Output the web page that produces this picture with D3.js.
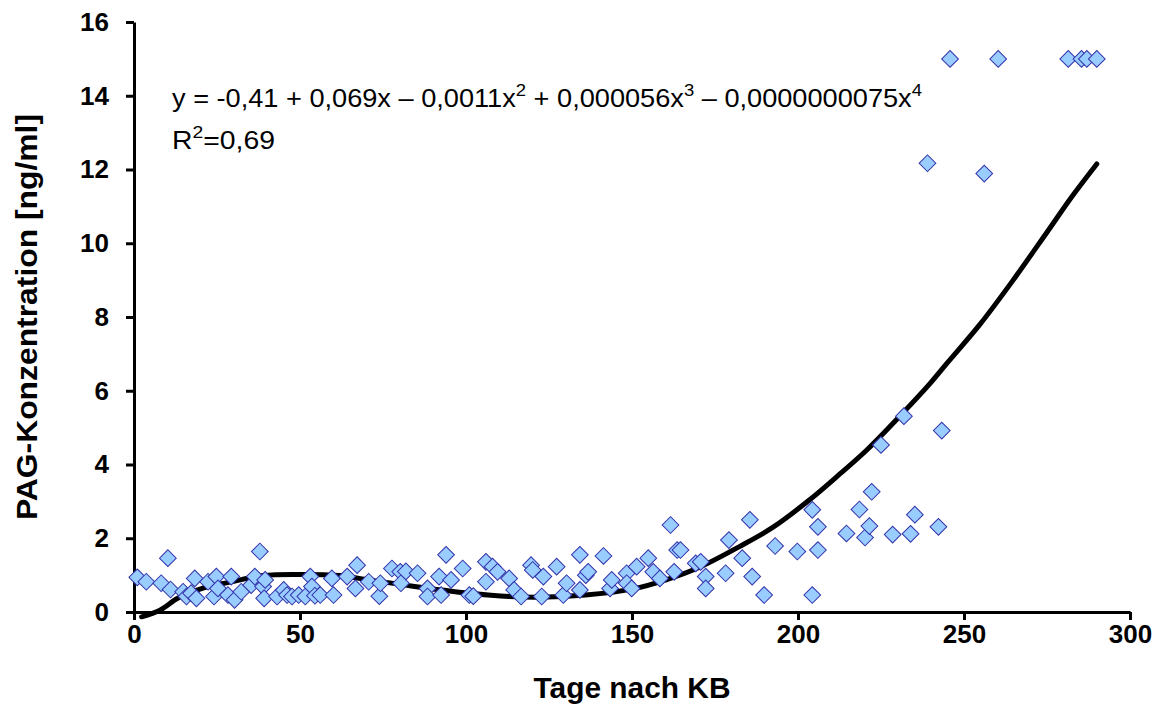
<!DOCTYPE html>
<html>
<head>
<meta charset="utf-8">
<script src="https://cdn.jsdelivr.net/npm/d3@7"></script>
<style>
  body { margin: 0; background: #fff; }
  text { font-family: "Liberation Sans", Arial, sans-serif; }
  .axis text { font-weight: bold; font-size: 26px; fill: #000; }
  .axis path, .axis line { stroke: #000; stroke-width: 3; }
  .axis-label { font-weight: bold; font-size: 29px; }
</style>
</head>
<body>
<div id="chart"></div>
<script>
// Tage nach KB / PAG-Konzentration
const days = [1, 3.7, 8.2, 10.2, 11, 14.8, 15.8, 17.2, 18.3, 18.8, 22.3, 24.1, 24.8, 25.3, 28.3, 29.3, 30.3, 32.3, 35.3, 36.4,
  37.9, 38.9, 39.2, 39.5, 43.1, 45.1, 46.1, 47.6, 49.6, 51.6, 53.1, 53.6, 54.5, 56.1, 59.6, 60.1, 64.2, 66.7, 67.2, 70.7,
  73.9, 74.2, 77.7, 80.2, 80.4, 81.9, 85.4, 88.4, 88.4, 91.9, 92.5, 94, 95.5, 99, 101, 102.2, 106, 106, 108, 109.5,
  113, 114.5, 116.6, 119.6, 120.1, 122.8, 123.3, 127.3, 129.3, 130.3, 134.3, 134.3, 136.1, 136.8, 141.4, 143.4, 143.9, 148.4, 148.4, 149.9,
  151.4, 154.9, 156.4, 158.4, 161.6, 162.7, 163.6, 164.6, 169.2, 170.7, 172.2, 172.2, 178.2, 179.2, 183.2, 185.5, 186.2, 189.8, 193.1, 199.8,
  204.3, 204.3, 206, 206, 214.6, 218.5, 220.2, 221.5, 222.2, 225, 228.5, 231.9, 233.9, 235.2, 239, 242.3, 243.3, 245.8, 256.1, 260.3,
  281.4, 285.4, 287, 290];
const pag = [0.94, 0.82, 0.78, 1.46, 0.61, 0.55, 0.42, 0.51, 0.91, 0.37, 0.82, 0.42, 0.96, 0.64, 0.46, 0.96, 0.33, 0.55, 0.73, 0.96,
  1.64, 0.69, 0.37, 0.87, 0.42, 0.6, 0.46, 0.42, 0.46, 0.42, 0.96, 0.69, 0.44, 0.46, 0.91, 0.46, 0.96, 0.64, 1.27, 0.82,
  0.43, 0.78, 1.18, 1.09, 0.78, 1.1, 1.05, 0.64, 0.42, 0.96, 0.46, 1.55, 0.87, 1.18, 0.46, 0.43, 1.36, 0.82, 1.23, 1.09,
  0.91, 0.6, 0.42, 1.27, 1.14, 0.42, 0.96, 1.23, 0.46, 0.78, 1.55, 0.6, 1.0, 1.09, 1.52, 0.64, 0.87, 1.05, 0.78, 0.64,
  1.23, 1.46, 1.09, 0.91, 2.36, 1.09, 1.68, 1.68, 1.32, 1.36, 0.96, 0.64, 1.05, 1.95, 1.46, 2.5, 0.96, 0.46, 1.79, 1.64,
  2.77, 0.46, 2.31, 1.68, 2.13, 2.78, 2.02, 2.33, 3.26, 4.53, 2.1, 5.31, 2.12, 2.64, 12.17, 2.31, 4.92, 15, 11.89, 15,
  15, 15, 15, 15];

// Trendlinie
const trendDays = [2.3, 7.8, 13.3, 20.8, 28.9, 38.9, 50, 62, 70, 84, 101, 113, 122, 136, 150, 160.5, 170.5, 182.5, 192.5, 203.6,
  212.7, 220.8, 231.6, 239.8, 244.9, 254.8, 264.8, 275, 282.8, 290];
const trendPag = [-0.13, 0.05, 0.38, 0.65, 0.81, 0.99, 1.02, 0.99, 0.88, 0.7, 0.51, 0.42, 0.4, 0.46, 0.62, 0.88, 1.22, 1.78, 2.3, 3.05,
  3.75, 4.4, 5.4, 6.2, 6.75, 7.8, 9.0, 10.3, 11.3, 12.15];

const xTicks = [0, 50, 100, 150, 200, 250, 300];
const yTicks = [0, 2, 4, 6, 8, 10, 12, 14, 16];

const margin = { top: 22, right: 35, bottom: 110, left: 134 };
const width = 1165 - margin.left - margin.right;
const height = 722 - margin.top - margin.bottom;

const svg = d3.select("#chart")
  .append("svg")
  .attr("width", 1165)
  .attr("height", 722)
  .append("g")
  .attr("transform", `translate(${margin.left},${margin.top})`);

const x = d3.scaleLinear().domain([0, 300]).range([0, width]);
const y = d3.scaleLinear().domain([0, 16]).range([height, 0]);

svg.append("g")
  .attr("class", "axis")
  .call(d3.axisLeft(y).tickValues(yTicks).tickSize(8).tickSizeOuter(0).tickPadding(17).tickFormat(d3.format("d")));

svg.append("g")
  .attr("class", "axis")
  .attr("transform", `translate(0,${height})`)
  .call(d3.axisBottom(x).tickValues(xTicks).tickSize(8).tickSizeOuter(0).tickPadding(5).tickFormat(d3.format("d")));

// trend line
const line = d3.line()
  .x((d, i) => x(trendDays[i]))
  .y((d, i) => y(trendPag[i]))
  .curve(d3.curveCatmullRom);

svg.append("path")
  .datum(trendDays)
  .attr("d", line)
  .attr("fill", "none")
  .attr("stroke", "#000")
  .attr("stroke-width", 5)
  .attr("stroke-linecap", "round");

// points
const diamond = d3.symbol().type(d3.symbolSquare).size(140);
svg.selectAll(".pt")
  .data(days)
  .enter()
  .append("path")
  .attr("class", "pt")
  .attr("d", diamond)
  .attr("transform", (d, i) => `translate(${x(d)},${y(pag[i])}) rotate(45)`)
  .attr("fill", "#99CCFF")
  .attr("stroke", "#3333AA")
  .attr("stroke-width", 1);

// equation
const eq = svg.append("text")
  .attr("x", 38)
  .attr("y", 85)
  .attr("textLength", 750)
  .attr("lengthAdjust", "spacingAndGlyphs")
  .style("font-size", "25px");
eq.append("tspan").text("y = -0,41 + 0,069x \u2013 0,0011x");
eq.append("tspan").attr("dy", -11).style("font-size", "17px").text("2");
eq.append("tspan").attr("dy", 11).text(" + 0,000056x");
eq.append("tspan").attr("dy", -11).style("font-size", "17px").text("3");
eq.append("tspan").attr("dy", 11).text(" \u2013 0,0000000075x");
eq.append("tspan").attr("dy", -11).style("font-size", "17px").text("4");

const r2 = svg.append("text")
  .attr("x", 38)
  .attr("y", 127)
  .attr("textLength", 103)
  .attr("lengthAdjust", "spacingAndGlyphs")
  .style("font-size", "25px");
r2.append("tspan").text("R");
r2.append("tspan").attr("dy", -11).style("font-size", "17px").text("2");
r2.append("tspan").attr("dy", 11).text("=0,69");

// Axis labels
svg.append("text")
  .attr("class", "axis-label")
  .attr("text-anchor", "middle")
  .attr("x", 632 - margin.left)
  .attr("y", height + 86)
  .attr("textLength", 197)
  .attr("lengthAdjust", "spacingAndGlyphs")
  .text("Tage nach KB");

svg.append("text")
  .attr("class", "axis-label")
  .attr("text-anchor", "middle")
  .attr("transform", "rotate(-90)")
  .attr("x", -(317 - margin.top))
  .attr("y", -97)
  .attr("textLength", 406)
  .attr("lengthAdjust", "spacingAndGlyphs")
  .text("PAG-Konzentration [ng/ml]");
</script>
</body>
</html>
